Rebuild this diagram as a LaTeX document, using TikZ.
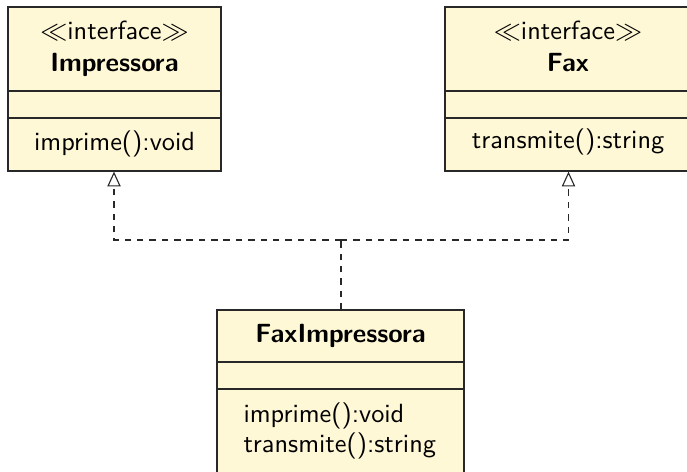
\documentclass[tikz,border=0pt]{standalone}
\usetikzlibrary{arrows.meta,fit}
\definecolor{umlfill}{RGB}{255,248,214}
\definecolor{umlline}{RGB}{40,40,40}
\newcommand\umlfont{\fontsize{10.65}{12.8}\selectfont\sffamily}
\tikzset{
  classbox/.style={draw=umlline, fill=umlfill, line width=0.5pt, inner sep=0pt},
  divider/.style={draw=umlline, line width=0.45pt},
  realize/.style={draw=umlline, line width=0.45pt, dash pattern=on 2.6pt off 2.4pt},
  realizetip/.style={-{Triangle[open,length=6pt,width=5.4pt]}},
  txt/.style={font=\umlfont, inner sep=0pt, anchor=base},
  txtb/.style={font=\umlfont\bfseries, inner sep=0pt, anchor=base},
  txtl/.style={font=\umlfont, inner sep=0pt, anchor=base west}
}
\begin{document}
\begin{tikzpicture}[x=0.405pt,y=-0.405pt]
\useasboundingbox (0,0) rectangle (687,471);
\clip (0,0) rectangle (687,471);

% interface Impressora
\node[classbox, fit={(8,7) (221,171)}] (imp) {};
\draw[divider] (8,91) -- (221,91);
\draw[divider] (8,118) -- (221,118);
\node[txt]  (impst) at (114.5,40) {$\ll$interface$\gg$};
\node[txtb] (impnm) at (114.5,72) {Impressora};
\node[txt]  (impop) at (114.5,150) {imprime():void};

% interface Fax
\node[classbox, fit={(445,7) (691,171)}] (fax) {};
\draw[divider] (445,91) -- (691,91);
\draw[divider] (445,118) -- (691,118);
\node[txt]  (faxst) at (568,40) {$\ll$interface$\gg$};
\node[txtb] (faxnm) at (568,72) {Fax};
\node[txt]  (faxop) at (568,149) {transmite():string};

% class FaxImpressora
\node[classbox, fit={(217,310) (464,490)}] (fimp) {};
\draw[divider] (217,362) -- (464,362);
\draw[divider] (217,389) -- (464,389);
\node[txtb] (fimpnm) at (340.5,342) {FaxImpressora};
\node[txtl] (fimpop1) at (243,422) {imprime():void};
\node[txtl] (fimpop2) at (243,452) {transmite():string};

% realization connectors
\coordinate (join) at (341,240);
\draw[realize] (fimp.north -| join) -- (join);
\draw[realize, realizetip] (join) -| ([xshift=-0.5*0.405pt]imp.south);
\draw[realize, realizetip] (join) -| ([xshift=0.5*0.405pt]fax.south);
\end{tikzpicture}
\end{document}
